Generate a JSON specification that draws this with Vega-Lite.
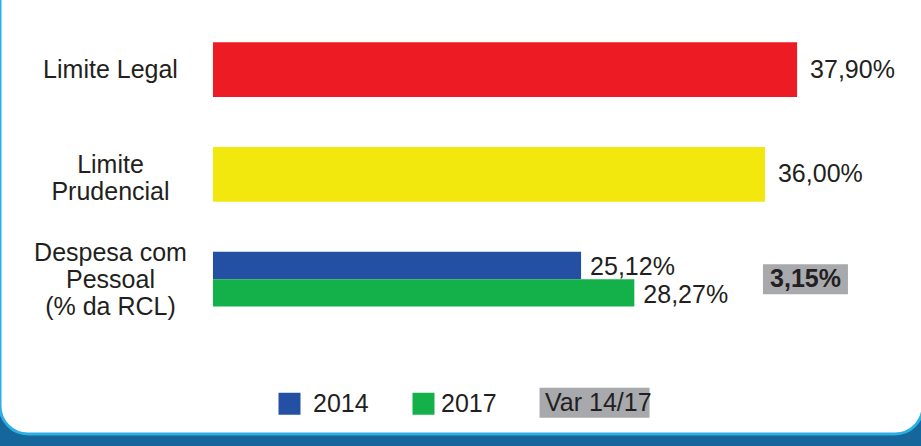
{
  "$schema": "https://vega.github.io/schema/vega-lite/v6.json",
  "autosize": {"type": "none"},
  "width": 923,
  "height": 474,
  "padding": {"left": 0, "top": -40, "right": -2, "bottom": 12},
  "background": "#15679b",
  "config": {
    "font": "Liberation Sans",
    "locale": {"number": {"decimal": ",", "thousands": ".", "grouping": [3], "currency": ["R$", ""]}},
    "view": {"fill": "white", "stroke": "#2cb0e3", "strokeWidth": 3, "cornerRadius": 28}
  },
  "datasets": {
    "despesa": [
      {"categoria": "Limite Legal", "serie": "Limite Legal", "valor": 0.379},
      {"categoria": "Limite Prudencial", "serie": "Limite Prudencial", "valor": 0.36},
      {"categoria": "Despesa com Pessoal (% da RCL)", "serie": "2014", "valor": 0.2512},
      {"categoria": "Despesa com Pessoal (% da RCL)", "serie": "2017", "valor": 0.2827},
      {"categoria": "Despesa com Pessoal (% da RCL)", "serie": "Var 14/17", "valor": 0.0315}
    ]
  },
  "data": {"name": "despesa"},
  "encoding": {
    "y": {
      "field": "categoria",
      "type": "nominal",
      "sort": ["Limite Legal", "Limite Prudencial", "Despesa com Pessoal (% da RCL)"],
      "scale": {"paddingInner": 0.475, "paddingOuter": 1.042, "align": 0.392},
      "axis": {
        "orient": "left",
        "offset": -110,
        "title": null,
        "domain": false,
        "ticks": false,
        "tickSize": 0,
        "grid": false,
        "labelPadding": 0,
        "labelAlign": "center",
        "labelBaseline": "middle",
        "labelFontSize": 25,
        "labelColor": "#231f20",
        "labelLineHeight": 27,
        "labelLimit": 400,
        "labelExpr": "datum.value == 'Limite Prudencial' ? ['Limite', 'Prudencial'] : datum.value == 'Limite Legal' ? 'Limite Legal' : ['Despesa com', 'Pessoal', '(% da RCL)']",
        "labelOffset": {
          "condition": [
            {"test": "datum.value == 'Limite Prudencial'", "value": -9},
            {"test": "datum.value == 'Despesa com Pessoal (% da RCL)'", "value": -26}
          ],
          "value": 0
        }
      }
    }
  },
  "layer": [
    {
      "transform": [{"filter": "indexof(['Limite Legal','Limite Prudencial'], datum.serie) >= 0"}],
      "mark": {"type": "bar"},
      "encoding": {
        "x": {"field": "valor", "type": "quantitative", "scale": {"domain": [-0.0926, 0.4535], "zero": false, "nice": false}, "axis": null},
        "x2": {"datum": 0.0334},
        "color": {
          "field": "serie",
          "type": "nominal",
          "scale": {
            "domain": ["Limite Legal", "Limite Prudencial", "2014", "2017", "Var 14/17"],
            "range": ["#ed1c24", "#f2e80e", "#2450a3", "#14b04a", "#a8a9ad"]
          },
          "legend": {
            "values": ["2014", "2017", "Var 14/17"],
            "orient": "none",
            "legendX": 277,
            "legendY": 430,
            "direction": "horizontal",
            "title": null,
            "padding": 0,
            "columnPadding": 42,
            "labelOffset": 5,
            "symbolSize": 484,
            "symbolType": "square",
            "symbolStrokeWidth": 0,
            "symbolOpacity": 1,
            "labelFontSize": 25,
            "labelColor": "#231f20",
            "labelLimit": 300,
            "encode": {
              "symbols": {"update": {"shape": {"signal": "datum.value === 'Var 14/17' ? 'M-2.27,-1.36H7.73V1.36H-2.27Z' : 'square'"}}},
              "labels": {"update": {"dx": {"signal": "datum.value === 'Var 14/17' ? -37 : datum.value === '2014' ? 6 : 0"}}}
            }
          }
        }
      }
    },
    {
      "transform": [{"filter": "datum.serie == '2014' || datum.serie == '2017'"}],
      "mark": {"type": "bar"},
      "encoding": {
        "x": {"field": "valor", "type": "quantitative"},
        "x2": {"datum": 0.0334},
        "yOffset": {"field": "serie", "type": "nominal", "sort": ["2014", "2017"], "scale": {"paddingInner": 0}},
        "color": {"field": "serie", "type": "nominal"}
      }
    },
    {
      "transform": [{"filter": "indexof(['Limite Legal','Limite Prudencial'], datum.serie) >= 0"}],
      "mark": {"type": "text", "align": "left", "baseline": "middle", "dx": 13, "fontSize": 25, "color": "#231f20"},
      "encoding": {
        "x": {"field": "valor", "type": "quantitative"},
        "text": {"field": "valor", "type": "quantitative", "format": ".2%"}
      }
    },
    {
      "transform": [{"filter": "datum.serie == '2014' || datum.serie == '2017'"}],
      "mark": {"type": "text", "align": "left", "baseline": "middle", "dx": 9, "dy": 2, "fontSize": 25, "color": "#231f20"},
      "encoding": {
        "x": {"field": "valor", "type": "quantitative"},
        "yOffset": {"field": "serie", "type": "nominal", "sort": ["2014", "2017"]},
        "text": {"field": "valor", "type": "quantitative", "format": ".2%"}
      }
    },
    {
      "transform": [{"filter": "datum.serie == 'Var 14/17'"}],
      "mark": {"type": "bar", "height": 30},
      "encoding": {
        "x": {"datum": 0.3588},
        "x2": {"datum": 0.4091},
        "color": {"field": "serie", "type": "nominal"}
      }
    },
    {
      "transform": [{"filter": "datum.serie == 'Var 14/17'"}],
      "mark": {"type": "text", "align": "center", "baseline": "middle", "fontSize": 25, "fontWeight": "bold", "color": "#231f20"},
      "encoding": {
        "x": {"datum": 0.384},
        "text": {"field": "valor", "type": "quantitative", "format": ".2%"}
      }
    }
  ]
}
